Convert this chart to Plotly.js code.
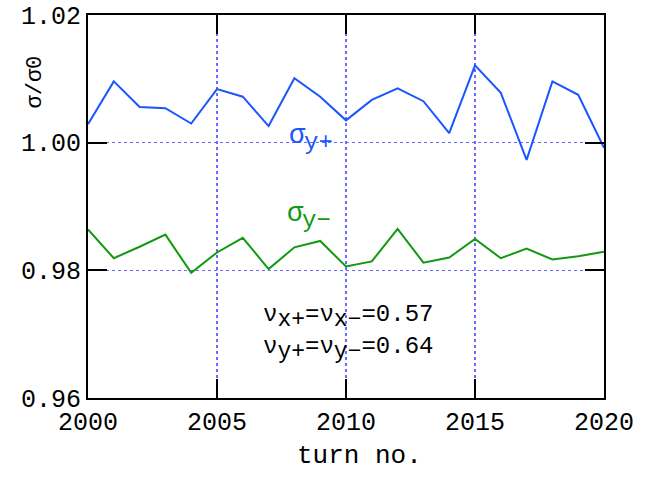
<!DOCTYPE html>
<html>
<head>
<meta charset="utf-8">
<script src="https://cdn.plot.ly/plotly-3.0.1.min.js"></script>
<style>html,body{margin:0;padding:0;background:#fff;}#chart{width:653px;height:477px;}</style>
</head>
<body>
<div id="chart"></div>
<script>
const turns = [2000,2001,2002,2003,2004,2005,2006,2007,2008,2009,2010,2011,2012,2013,2014,2015,2016,2017,2018,2019,2020];
const sigmaYplus = [1.0029,1.0096,1.0056,1.0054,1.0030,1.0084,1.0072,1.0026,1.0101,1.0072,1.0035,1.0067,1.0085,1.0065,1.0015,1.0121,1.0078,0.9973,1.0096,1.0075,0.9992];
const sigmaYminus = [0.9864,0.9819,0.9837,0.9856,0.9796,0.9828,0.9851,0.9802,0.9836,0.9846,0.9806,0.9814,0.9865,0.9812,0.9820,0.9849,0.9819,0.9834,0.9817,0.9822,0.9829];
const xTicks = [2000,2005,2010,2015,2020];
const yTicks = [0.96,0.98,1.00,1.02];
const yTickText = ['0.96','0.98','1.00','1.02'];

const FONT = '"Liberation Mono", "DejaVu Sans Mono", monospace';
const GRID = '#6a6aff';
const BLUE = '#1a55ff';
const GREEN = '#119911';

const data = [
  {x: turns, y: sigmaYplus, mode: 'lines', line: {color: BLUE, width: 2}, name: 'σy+'},
  {x: turns, y: sigmaYminus, mode: 'lines', line: {color: GREEN, width: 2}, name: 'σy-'}
];

const sub = t => '<sub><span style="font-size:23px">' + t + '</span></sub>';

const layout = {
  width: 653, height: 477,
  margin: {l: 88, r: 49, t: 15, b: 79},
  paper_bgcolor: '#fff', plot_bgcolor: '#fff',
  showlegend: false,
  font: {family: FONT, size: 25, color: '#000'},
  xaxis: {
    range: [2000, 2020], tickvals: xTicks, ticktext: xTicks.map(String),
    ticks: 'inside', ticklen: 19, tickwidth: 2, tickcolor: '#000',
    showline: true, linewidth: 2, linecolor: '#000', mirror: 'ticks',
    showgrid: true, gridcolor: GRID, griddash: 'dot', gridwidth: 1.5,
    zeroline: false, tickfont: {family: FONT, size: 25}
  },
  yaxis: {
    range: [0.96, 1.02], tickvals: yTicks, ticktext: yTickText,
    ticks: 'inside', ticklen: 19, tickwidth: 2, tickcolor: '#000',
    showline: true, linewidth: 2, linecolor: '#000', mirror: 'ticks',
    showgrid: true, gridcolor: GRID, griddash: 'dot', gridwidth: 1.5,
    zeroline: false, tickfont: {family: FONT, size: 25}
  },
  annotations: [
    {x: 0.527, y: -0.1514, xref: 'paper', yref: 'paper', text: 'turn no.', showarrow: false,
     xanchor: 'center', yanchor: 'middle', font: {family: FONT, size: 26, color: '#000'}},
    {x: -0.1027, y: 0.8238, xref: 'paper', yref: 'paper', text: 'σ/σ0', showarrow: false, textangle: -90,
     xanchor: 'center', yanchor: 'middle', font: {family: FONT, size: 22, color: '#000'}},
    {x: 2007.71, y: 1.00097, xref: 'x', yref: 'y', text: 'σ', showarrow: false, xanchor: 'left', yanchor: 'middle',
     font: {family: FONT, size: 27, color: BLUE}},
    {x: 2008.29, y: 1.0000, xref: 'x', yref: 'y', text: 'y+', showarrow: false, xanchor: 'left', yanchor: 'middle',
     font: {family: FONT, size: 24, color: BLUE}},
    {x: 2007.64, y: 0.98881, xref: 'x', yref: 'y', text: 'σ', showarrow: false, xanchor: 'left', yanchor: 'middle',
     font: {family: FONT, size: 27, color: GREEN}},
    {x: 2008.22, y: 0.98786, xref: 'x', yref: 'y', text: 'y−', showarrow: false, xanchor: 'left', yanchor: 'middle',
     font: {family: FONT, size: 24, color: GREEN}},
    {x: 2010.08, y: 0.97267, xref: 'x', yref: 'y', text: 'ν' + sub('x+') + '=ν' + sub('x−') + '=0.57', showarrow: false,
     font: {family: FONT, size: 24, color: '#000'}},
    {x: 2010.08, y: 0.9677, xref: 'x', yref: 'y', text: 'ν' + sub('y+') + '=ν' + sub('y−') + '=0.64', showarrow: false,
     font: {family: FONT, size: 24, color: '#000'}}
  ]
};

Plotly.newPlot('chart', data, layout, {displayModeBar: false, staticPlot: true});
</script>
</body>
</html>
